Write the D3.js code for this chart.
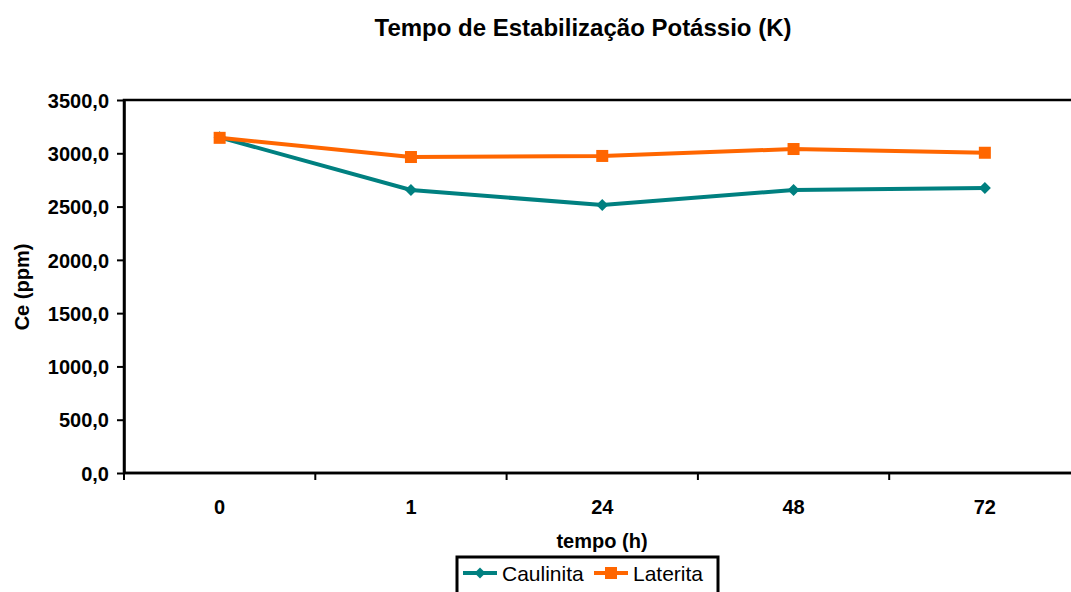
<!DOCTYPE html>
<html>
<head>
<meta charset="utf-8">
<script src="https://cdn.jsdelivr.net/npm/d3@7"></script>
<style>
body { margin: 0; background: #fff; }
text { font-family: "Liberation Sans", Arial, sans-serif; }
</style>
</head>
<body>
<div id="chart"></div>
<script>
// data
const categories = ["0", "1", "24", "48", "72"];
const caulinita = [3150, 2655, 2515, 2655, 2675];
const laterita = [3145, 2965, 2975, 3040, 3005];
const yTicks = [0, 500, 1000, 1500, 2000, 2500, 3000, 3500];

var margin = {top: 100, left: 124},
    plotW = 956.5,
    plotH = 373;

var svg = d3.select("#chart").append("svg")
  .attr("width", 1071)
  .attr("height", 592);

svg.append("text")
  .attr("x", 583).attr("y", 36)
  .attr("text-anchor", "middle")
  .style("font-size", "24px").style("font-weight", "bold")
  .text("Tempo de Estabilização Potássio (K)");

var g = svg.append("g")
  .attr("transform", "translate(" + margin.left + "," + margin.top + ")");

var x = d3.scaleBand().domain(categories).range([0, plotW]);
var y = d3.scaleLinear().domain([0, 3500]).range([plotH, 0]);

// frame
g.append("rect")
  .attr("x", 0).attr("y", 0).attr("width", plotW).attr("height", plotH)
  .attr("fill", "none").attr("stroke", "#000").attr("stroke-width", 2.5);

// y axis
var yAxis = g.append("g")
  .call(d3.axisLeft(y).tickValues(yTicks).tickSize(7).tickSizeOuter(0)
    .tickFormat(d => d3.format(".1f")(d).replace(".", ",")));
yAxis.select(".domain").attr("stroke-width", 2.5);
yAxis.selectAll(".tick line").attr("stroke-width", 2);
yAxis.selectAll("text")
  .style("font-size", "20px").style("font-weight", "bold")
  .attr("fill", "#000").attr("x", -15).attr("dy", "0.36em");

// x axis: ticks between categories
var xAxis = g.append("g").attr("transform", "translate(0," + plotH + ")");
xAxis.append("line").attr("x1", 0).attr("x2", plotW)
  .attr("stroke", "#000").attr("stroke-width", 2.5);
xAxis.selectAll(".xt").data(categories).enter().append("line")
  .attr("x1", d => x(d)).attr("x2", d => x(d))
  .attr("y1", 0).attr("y2", 7)
  .attr("stroke", "#000").attr("stroke-width", 2);
xAxis.selectAll(".xl").data(categories).enter().append("text")
  .attr("x", d => x(d) + x.bandwidth() / 2).attr("y", 41)
  .attr("text-anchor", "middle")
  .style("font-size", "20px").style("font-weight", "bold")
  .text(d => d);

svg.append("text")
  .attr("x", 602).attr("y", 548)
  .attr("text-anchor", "middle")
  .style("font-size", "20px").style("font-weight", "bold")
  .text("tempo (h)");

svg.append("text")
  .attr("transform", "translate(29,287) rotate(-90)")
  .attr("text-anchor", "middle")
  .style("font-size", "20px").style("font-weight", "bold")
  .text("Ce (ppm)");

var line = d3.line()
  .x((d, i) => x(categories[i]) + x.bandwidth() / 2)
  .y(d => y(d));

var teal = "#008080", orange = "#FF6600";

g.append("path").datum(caulinita)
  .attr("d", line).attr("fill", "none")
  .attr("stroke", teal).attr("stroke-width", 4);
g.append("path").datum(laterita)
  .attr("d", line).attr("fill", "none")
  .attr("stroke", orange).attr("stroke-width", 4);

g.selectAll(".cm").data(caulinita).enter().append("path")
  .attr("d", d3.symbol(d3.symbolSquare, 72))
  .attr("transform", (d, i) => "translate(" + (x(categories[i]) + x.bandwidth() / 2) + "," + y(d) + ") rotate(45)")
  .attr("fill", teal);
g.selectAll(".lm").data(laterita).enter().append("rect")
  .attr("x", (d, i) => x(categories[i]) + x.bandwidth() / 2 - 6)
  .attr("y", d => y(d) - 6)
  .attr("width", 12).attr("height", 12)
  .attr("fill", orange);

// legend
var lg = svg.append("g").attr("transform", "translate(457,557)");
lg.append("rect").attr("x", 0).attr("y", 0).attr("width", 261).attr("height", 45)
  .attr("fill", "#fff").attr("stroke", "#000").attr("stroke-width", 3);
var items = [{name: "Caulinita", color: teal, sym: "d"}, {name: "Laterita", color: orange, sym: "s"}];
var offs = [6, 137];
items.forEach(function (it, i) {
  var ix = offs[i];
  lg.append("line").attr("x1", ix).attr("x2", ix + 34).attr("y1", 16).attr("y2", 16)
    .attr("stroke", it.color).attr("stroke-width", 4);
  if (it.sym === "d") {
    lg.append("path").attr("transform", "translate(" + (ix + 17) + ",16) rotate(45)")
      .attr("d", d3.symbol(d3.symbolSquare, 60)).attr("fill", it.color);
  } else {
    lg.append("rect").attr("x", ix + 11).attr("y", 10).attr("width", 12).attr("height", 12)
      .attr("fill", it.color);
  }
  lg.append("text").attr("x", ix + 39).attr("y", 24)
    .style("font-size", "21px").text(it.name);
});
</script>
</body>
</html>
